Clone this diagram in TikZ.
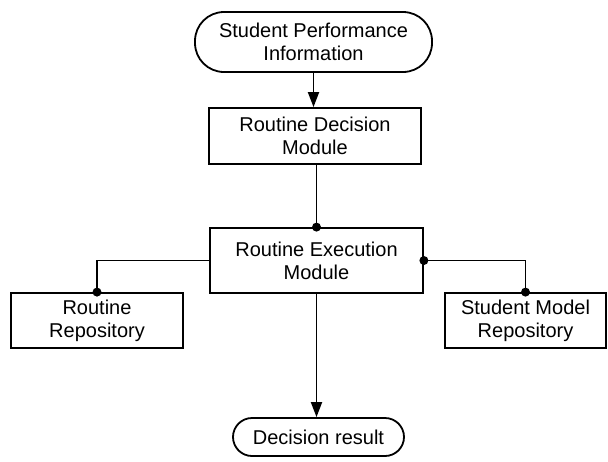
\documentclass[tikz,border=0pt]{standalone}
\usepackage{fontspec}
\setmainfont{Liberation Sans}
\usetikzlibrary{arrows.meta}

\begin{document}
\begin{tikzpicture}[x=1pt,y=-1pt,line width=1.8pt,
  >={Triangle[length=15pt,width=11pt]},
  every node/.style={font=\fontsize{20}{23}\selectfont,align=center,draw,inner sep=0pt},
  term node/.style={rounded corners=19pt},
  module node/.style={rectangle}]

  \useasboundingbox (0,0) rectangle (608,461);

  \node[term node,minimum width=237pt,minimum height=60pt,rounded corners=29pt] (info) at (313.5,42) {Student Performance\\Information};
  \node[module node,minimum width=212pt,minimum height=56pt] (decide) at (315,136) {Routine Decision\\Module};
  \node[module node,minimum width=213pt,minimum height=65pt] (exec) at (316.5,260.5) {Routine Execution\\Module};
  \node[module node,minimum width=172pt,minimum height=55pt] (routrepo) at (97,320.5) {Routine\\Repository};
  \node[module node,minimum width=161pt,minimum height=55pt] (studrepo) at (525.5,320.5) {Student Model\\Repository};
  \node[term node,minimum width=171pt,minimum height=38pt] (result) at (318.5,437) {Decision result};

  % connectors
  \draw[->] (info.south) -- (info.south |- decide.north);
  \draw (exec.north) -- (exec.north |- decide.south);
  \draw (exec.west) -| (routrepo.north);
  \draw (exec.east) -| (studrepo.north);
  \draw[->] (exec.south) -- (exec.south |- result.north);

  % joints
  \fill (exec.north) circle (4.5pt);
  \fill (exec.east) circle (4.5pt);
  \fill (routrepo.north) circle (4.5pt);
  \fill (studrepo.north) circle (4.5pt);

\end{tikzpicture}
\end{document}
